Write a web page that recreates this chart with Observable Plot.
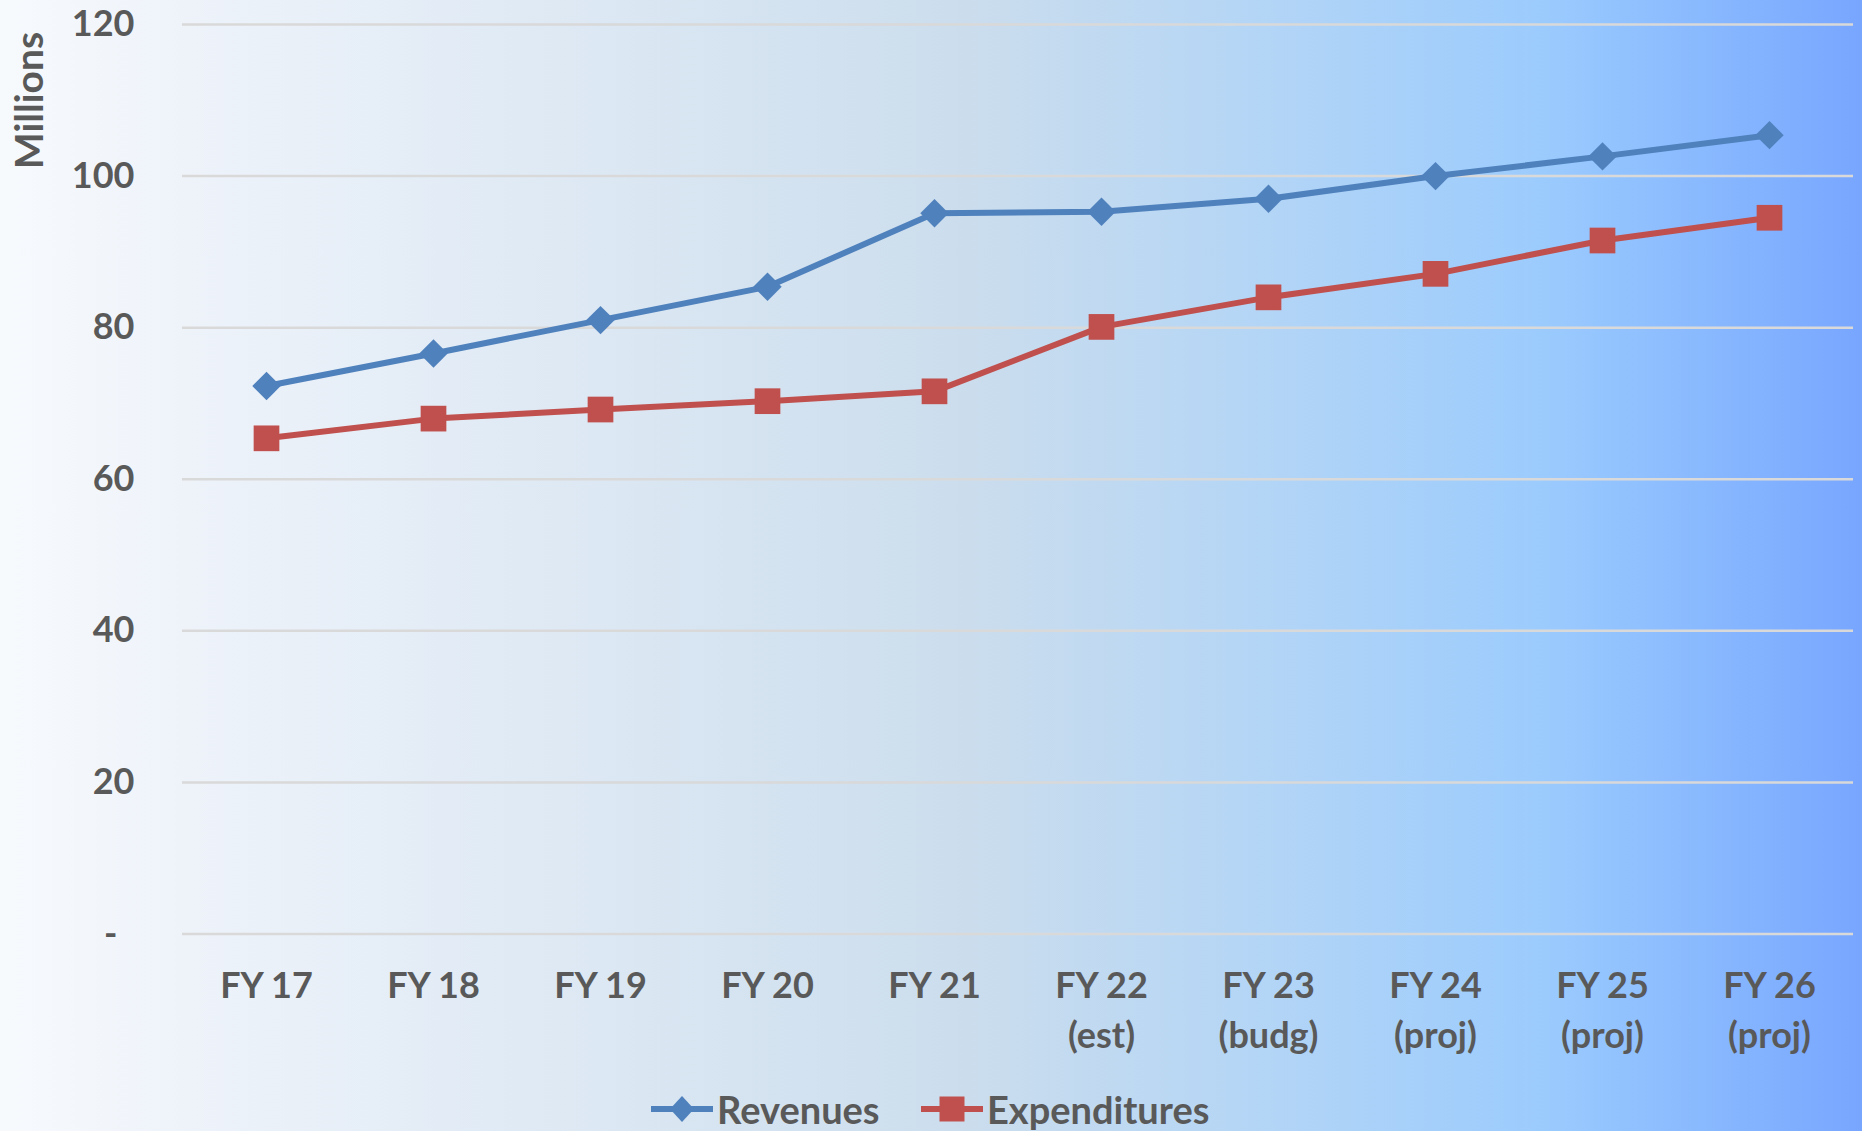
<!DOCTYPE html>
<html>
<head>
<meta charset="utf-8">
<script src="https://cdn.jsdelivr.net/npm/d3@7"></script>
<script src="https://cdn.jsdelivr.net/npm/@observablehq/plot@0.6"></script>
<style>
  html, body { margin: 0; padding: 0; }
  #chart {
    position: relative;
    width: 1862px;
    height: 1131px;
    overflow: hidden;
    font-family: Lato, "Open Sans", sans-serif;
    font-weight: 700;
    color: #595959;
    background: linear-gradient(to right,
      #f7fafd 0%, #eef3fa 10%, #dee9f4 30%, #cbdded 52%,
      #b3d5f6 68%, #9bcbfd 83%, #8cbcfe 90%, #78a6ff 100%);
  }
  #chart svg.plot { position: absolute; left: 0; top: 0; }
  .legend-item {
    position: absolute;
    top: 1087px;
    height: 44px;
    display: flex;
    align-items: center;
    font-size: 38px;
    line-height: 44px;
    white-space: nowrap;
  }
  .legend-item svg { display: block; margin-right: 4px; }
</style>
</head>
<body>
<div id="chart"></div>
<script>
// Fiscal years shown on the x axis (second line after "\n")
const years = [
  "FY 17", "FY 18", "FY 19", "FY 20", "FY 21",
  "FY 22\n(est)", "FY 23\n(budg)", "FY 24\n(proj)", "FY 25\n(proj)", "FY 26\n(proj)"
];

// Values in millions
const revenues     = [72.3, 76.6, 81.0, 85.4, 95.1, 95.3, 97.0, 100.0, 102.6, 105.4];
const expenditures = [65.4, 68.0, 69.2, 70.3, 71.6, 80.1, 84.0, 87.1, 91.5, 94.5];

const seriesNames  = ["Revenues", "Expenditures"];
const seriesColors = ["#4f81bd", "#c0504d"];

const yTicks = [20, 40, 60, 80, 100, 120];
const gridTicks = [0, ...yTicks];

// Long table for the marks
const rows = [
  ...years.map((year, i) => ({series: "Revenues", year, value: revenues[i]})),
  ...years.map((year, i) => ({series: "Expenditures", year, value: expenditures[i]}))
];

const W = 1862, H = 1080;

const plot = Plot.plot({
  width: W,
  height: H,
  marginLeft: 182,
  marginRight: 9,
  marginTop: 24,
  marginBottom: H - 933.5,
  style: {
    fontFamily: "Lato, 'Open Sans', sans-serif",
    fontSize: "36px",
    fontWeight: 700,
    color: "#595959",
    background: "transparent",
    overflow: "visible"
  },
  x: {type: "point", domain: years, padding: 0.5},
  y: {domain: [0, 120]},
  color: {domain: seriesNames, range: seriesColors},
  marks: [
    Plot.ruleY(gridTicks, {stroke: "#d9d9d9", strokeWidth: 2.5}),
    Plot.axisY(yTicks, {tickSize: 0, tickPadding: 48, label: null}),
    Plot.axisY([0], {tickSize: 0, tickPadding: 65, tickFormat: () => "-", label: null}),
    Plot.axisX({tickSize: 0, tickPadding: 28, lineHeight: 1.39, label: null}),
    Plot.text(["Millions"], {
      frameAnchor: "top-left", rotate: -90, dx: -152, dy: 76,
      textAnchor: "middle", lineAnchor: "middle", fill: "#595959", fontSize: 39
    }),
    Plot.line(rows, {x: "year", y: "value", z: "series", stroke: "series", strokeWidth: 6}),
    Plot.dot(rows.filter(d => d.series === "Revenues"),
      {x: "year", y: "value", symbol: "diamond2", r: 12.8, fill: "series", stroke: "none"}),
    Plot.dot(rows.filter(d => d.series === "Expenditures"),
      {x: "year", y: "value", symbol: "square", r: 14.5, fill: "series", stroke: "none"})
  ]
});
plot.classList.add("plot");

const chart = document.getElementById("chart");
chart.appendChild(plot);

// Legend below the plot: line-with-marker swatch + series name
const swatch = (color, shape) => {
  const ns = "http://www.w3.org/2000/svg";
  const s = document.createElementNS(ns, "svg");
  s.setAttribute("width", 62);
  s.setAttribute("height", 30);
  const line = document.createElementNS(ns, "line");
  line.setAttribute("x1", 0); line.setAttribute("x2", 62);
  line.setAttribute("y1", 15); line.setAttribute("y2", 15);
  line.setAttribute("stroke", color); line.setAttribute("stroke-width", 6);
  line.setAttribute("stroke-linecap", "round");
  s.appendChild(line);
  const m = document.createElementNS(ns, "path");
  m.setAttribute("d", shape === "diamond"
    ? "M31,2L43,15L31,28L19,15Z"
    : "M18.5,2.5H43.5V27.5H18.5Z");
  m.setAttribute("fill", color);
  s.appendChild(m);
  return s;
};

const legendLeft = [651, 921];
seriesNames.forEach((name, i) => {
  const item = document.createElement("div");
  item.className = "legend-item";
  item.style.left = legendLeft[i] + "px";
  item.appendChild(swatch(seriesColors[i], i === 0 ? "diamond" : "square"));
  const label = document.createElement("span");
  label.textContent = name;
  item.appendChild(label);
  chart.appendChild(item);
});
</script>
</body>
</html>
